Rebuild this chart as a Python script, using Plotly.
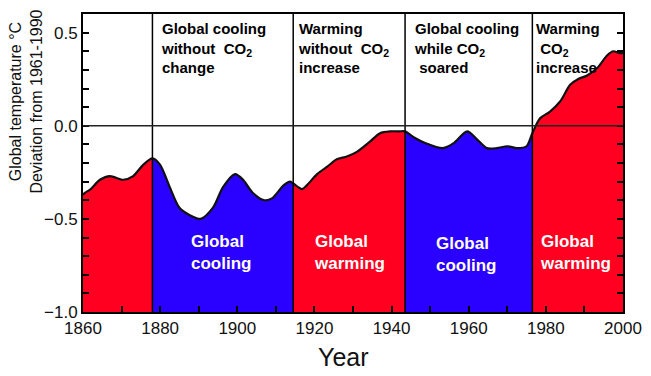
import numpy as np
import plotly.graph_objects as go

# Smoothed global temperature deviation (°C, relative to 1961-1990)
years = [1860, 1860.5, 1862, 1864.4, 1867, 1870.4, 1873, 1875.6, 1878,
         1880, 1882.5, 1885, 1887.7, 1890.5, 1893.7, 1896.3, 1899.4, 1901.5,
         1904, 1907, 1909, 1912, 1913.7, 1914.5,
         1916.8, 1918, 1920.7, 1923.3, 1925.8, 1928.4, 1931, 1934.4, 1937,
         1939.6, 1942, 1943.5,
         1945.6, 1949, 1953.3, 1956, 1959.6, 1962, 1964.7, 1967.3, 1970,
         1972.5, 1975, 1976.5,
         1978.5, 1981, 1983.7, 1986.3, 1988.3, 1990.7, 1993.3, 1996, 1997.5,
         1999, 2000]
temps = [-0.37, -0.36, -0.34, -0.29, -0.27, -0.29, -0.27, -0.21, -0.175,
         -0.21, -0.33, -0.44, -0.48, -0.50, -0.44, -0.33, -0.26, -0.29,
         -0.36, -0.40, -0.39, -0.32, -0.30, -0.31,
         -0.34, -0.32, -0.26, -0.22, -0.18, -0.165, -0.14, -0.085, -0.04,
         -0.03, -0.03, -0.03,
         -0.06, -0.095, -0.12, -0.095, -0.03, -0.07, -0.12, -0.12, -0.11,
         -0.12, -0.11, -0.04,
         0.04, 0.075, 0.13, 0.22, 0.25, 0.27, 0.31, 0.38, 0.40,
         0.39, 0.39]

# Periods (start, end, kind)
period_starts = [1860, 1878, 1914.5, 1943.5, 1976.5]
period_ends = [1878, 1914.5, 1943.5, 1976.5, 2000]
period_kinds = ["warm", "cool", "warm", "cool", "warm"]
dividers = [1878, 1914.5, 1943.5, 1976.5]

colors = {"warm": "#FF0020", "cool": "#2A00FF"}

top_labels = ["Global cooling<br>without  CO<sub>2</sub><br>change",
              "Warming<br>without  CO<sub>2</sub><br>increase",
              "Global cooling<br>while CO<sub>2</sub><br> soared",
              "Warming<br> CO<sub>2</sub><br>increase"]
top_label_x = [1879.6, 1915.3, 1945.2, 1976.9]

bottom_labels = ["Global<br>cooling", "Global<br>warming", "Global<br>cooling", "Global<br>warming"]
bottom_label_x = [1887.6, 1919.3, 1951.0, 1977.9]
bottom_label_y = [-0.683, -0.683, -0.69, -0.68]

YMIN, YMAX = -1.0, 0.6

fig = go.Figure()
yrs = np.array(years)
tmp = np.array(temps)
for s, e, k in zip(period_starts, period_ends, period_kinds):
    m = (yrs >= s) & (yrs <= e)
    xs = yrs[m]
    ys = tmp[m]
    fig.add_trace(go.Scatter(x=xs, y=[YMIN] * len(xs), mode="lines",
                             line=dict(width=0), hoverinfo="skip", showlegend=False))
    fig.add_trace(go.Scatter(x=xs, y=ys, mode="lines", fill="tonexty",
                             fillcolor=colors[k], line=dict(width=0, shape="spline"),
                             showlegend=False))

# Black outline of the curve
fig.add_trace(go.Scatter(x=years, y=temps, mode="lines",
                         line=dict(color="#111111", width=2.2, shape="spline", smoothing=0.8),
                         showlegend=False))

shapes = []
for d in dividers:
    shapes.append(dict(type="line", xref="x", yref="paper", x0=d, x1=d, y0=0, y1=1,
                       line=dict(color="#000000", width=1.5), layer="above"))
shapes.append(dict(type="line", xref="paper", yref="y", x0=0, x1=1, y0=0, y1=0,
                   line=dict(color="#222222", width=1.4), layer="above"))

annotations = []
for t, x in zip(top_labels, top_label_x):
    annotations.append(dict(text=t, x=x, y=0.415, xref="x", yref="y",
                            xanchor="left", yanchor="middle", align="left", showarrow=False,
                            font=dict(family="Liberation Sans, Arial", size=15, color="#000000",
                                      weight="bold")))
for t, x, y in zip(bottom_labels, bottom_label_x, bottom_label_y):
    annotations.append(dict(text=t, x=x, y=y, xref="x", yref="y",
                            xanchor="left", yanchor="middle", align="left", showarrow=False,
                            font=dict(family="Liberation Sans, Arial", size=17, color="#FFFFFF",
                                      weight="bold")))
annotations.append(dict(text="Year", x=0.483, y=-0.15, xref="paper", yref="paper",
                        xanchor="center", yanchor="middle", showarrow=False,
                        font=dict(family="Liberation Sans, Arial", size=25, color="#111111")))
annotations.append(dict(text="Global temperature °C<br>Deviation from 1961-1990",
                        x=-0.105, y=0.707, xref="paper", yref="paper", textangle=-90,
                        xanchor="center", yanchor="middle", showarrow=False,
                        font=dict(family="Liberation Sans, Arial", size=16, color="#111111")))

fig.update_layout(
    width=643, height=368,
    margin=dict(l=75, r=28, t=4, b=64),
    paper_bgcolor="#FFFFFF", plot_bgcolor="#FFFFFF",
    shapes=shapes, annotations=annotations,
    font=dict(family="Liberation Sans, Arial", color="#111111"),
    xaxis=dict(range=[1860, 2000], tickmode="linear", tick0=1860, dtick=20,
               ticks="inside", ticklen=6, tickwidth=1.5, tickcolor="#000",
               minor=dict(dtick=10, ticks="inside", ticklen=6, tickwidth=1.5, tickcolor="#000"),
               showgrid=False, zeroline=False, showline=True, linecolor="#000", linewidth=2,
               mirror=True, tickfont=dict(size=17, color="#111111")),
    yaxis=dict(range=[YMIN, YMAX], tickmode="linear", tick0=-1.0, dtick=0.5,
               tickformat=".1f", ticks="inside", ticklen=6, tickwidth=1.5, tickcolor="#000",
               minor=dict(dtick=0.1, ticks="inside", ticklen=6, tickwidth=1.5, tickcolor="#000"),
               showgrid=False, zeroline=False, showline=True, linecolor="#000", linewidth=2,
               mirror="allticks", tickfont=dict(size=17, color="#111111")),
)

fig.write_html("out.html")
